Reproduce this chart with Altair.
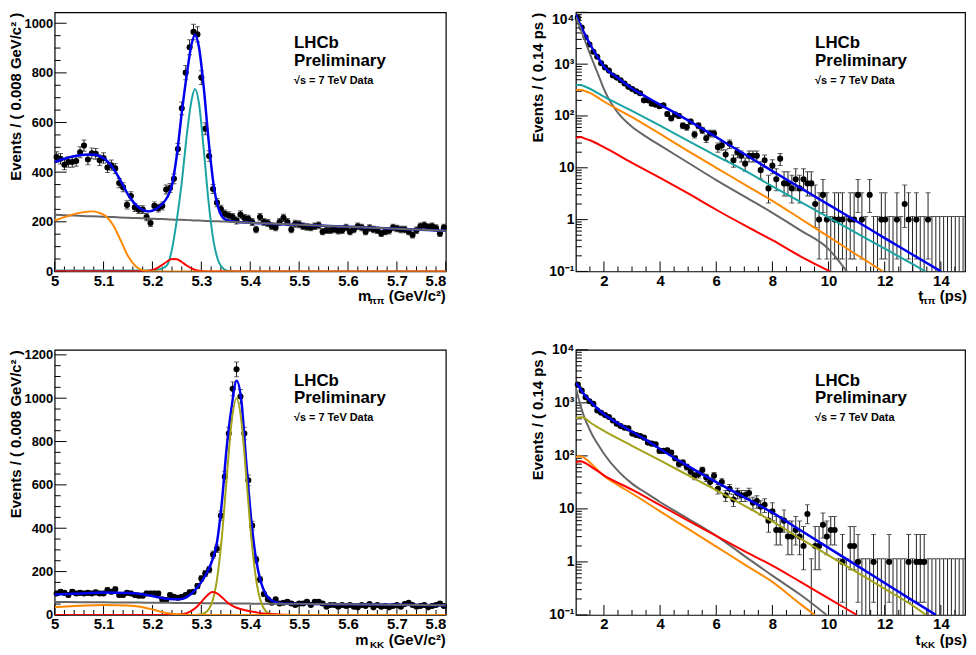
import math
import altair as alt
import pandas as pd

FONT = "Liberation Sans"

# colours
C_TOTAL = "#0000ee"
C_SIG_PP = "#1aa3a3"
C_SIG_KK = "#a3a31a"
C_PART = "#ff8800"
C_CROSS = "#ff0000"
C_COMB = "#666666"

# ---------------- binning ----------------
MASS_LO, MASS_BIN = 5.0, 0.008
TIME_LO, TIME_BIN = 1.0, 0.1386

# ---------------- data: m(pipi) ----------------
TL_COUNTS = [461, 454, 430, 441, 441, 445, 480, 507, 451, 476,
             474, 448, 457, 419, 428, 415, 356, 339, 268, 304,
             258, 249, 249, 219, 195, 264, 255, 264, 330, 336,
             373, 493, 657, 801, 903, 965, 955, 781, 575, 465,
             332, 277, 251, 232, 225, 219, 205, 229, 215, 212,
             199, 169, 219, 199, 195, 182, 177, 199, 216, 199,
             169, 192, 190, 182, 179, 177, 182, 186, 160, 166,
             166, 169, 164, 166, 177, 160, 169, 182, 177, 160,
             175, 169, 166, 153, 160, 164, 177, 173, 169, 169,
             160, 147, 166, 182, 186, 179, 182, 175, 153, 177]

TL_M = [5.000, 5.020, 5.040, 5.060, 5.075, 5.090, 5.105, 5.120, 5.135, 5.150,
        5.165, 5.180, 5.192, 5.205, 5.218, 5.230, 5.240, 5.250, 5.260, 5.270,
        5.280, 5.287, 5.295, 5.305, 5.315, 5.325, 5.335, 5.345, 5.355, 5.370,
        5.400, 5.500, 5.600, 5.700, 5.800]
TL_TOTAL = [441, 454, 464, 470, 471, 466, 449, 415, 365, 310,
            270, 248, 242, 249, 268, 298, 348, 470, 640, 790,
            915, 954, 905, 740, 525, 350, 255, 215, 205, 200,
            196, 188, 180, 172, 164]
TL_COMB = [228, 226, 225, 223, 222, 221, 220, 219, 217, 216,
           215, 214, 213, 212, 211, 210, 209, 208, 208, 207,
           206, 205, 205, 204, 203, 202, 202, 201, 200, 199,
           196, 188, 180, 172, 164]
TL_PART = [205, 219, 231, 239, 242, 237, 222, 185, 125, 62,
           22, 5, 1, 0, 0, 0, 0, 0, 0, 0,
           0, 0, 0, 0, 0, 0, 0, 0, 0, 0,
           0, 0, 0, 0, 0]
TL_CROSS = [1, 1, 1, 1, 1, 1, 1, 1, 1, 1,
            1, 1, 3, 9, 24, 40, 50, 49, 38, 24,
            12, 6, 3, 1, 0, 0, 0, 0, 0, 0,
            0, 0, 0, 0, 0]
TL_SIG = [4, 4, 4, 4, 4, 4, 4, 4, 4, 4,
          4, 4, 4, 5, 10, 25, 90, 210, 360, 545,
          690, 735, 679, 490, 276, 121, 41, 11, 2, 0,
          0, 0, 0, 0, 0]

# ---------------- data: t(pipi) ----------------
TR_COUNTS = [7800, 5080, 3300, 2400, 1730, 1390, 1040, 866, 750, 604,
             550, 490, 422, 365, 330, 299, 274, 200, 200, 173,
             165, 154, 161, 109, 90, 107, 100, 65, 61, 78,
             44, 65, 53, 37, 46, 46, 25, 27, 18, 29,
             14, 20, 17, 12, 17, 17, 17, 9, 14, 4,
             11, 6, 15, 5, 5, 4, 6, 4, 6, 5,
             5, 2, 1, 3, 1, 0, 1, 1, 1, 0,
             1, 1, 3, 1, 0, 3, 0, 0, 1, 1,
             0, 0, 1, 0, 2, 1, 0, 1, 0, 0,
             1, 0, 0, 0, 0, 0, 0, 0, 0, 0]

TR_TOTAL_T = [1.0, 1.1, 1.25, 1.4, 1.5, 1.75, 2.0, 2.5, 3.0, 3.5, 4.0, 4.5,
              5.0, 6.0, 7.0, 8.0, 9.0, 10.0, 11.0, 12.0, 13.0, 14.0]
TR_TOTAL_V = [9000, 6700, 4500, 3100, 2450, 1450, 900, 540, 340, 235, 165, 117,
              82, 39, 18.5, 8.6, 4.1, 1.95, 0.93, 0.44, 0.21, 0.1]
TR_COMB_T = [1.0, 1.2, 1.4, 1.6, 1.8, 2.0, 2.25, 2.5, 3.0, 3.5, 4.0, 5.0,
             6.0, 7.0, 8.0, 9.0, 10.0, 10.65]
TR_COMB_V = [8100, 4300, 2200, 1150, 620, 330, 180, 115, 62, 40, 27, 12.5,
             5.8, 2.8, 1.35, 0.62, 0.27, 0.1]
TR_SIG_T = [1.0, 1.1, 1.2, 1.3, 1.5, 2.0, 3.0, 4.0, 5.0, 6.0, 7.0, 8.0,
            9.0, 10.0, 11.0, 12.0, 13.0, 13.45]
TR_SIG_V = [390, 396, 392, 375, 335, 235, 125, 65, 33, 17, 8.9, 4.4,
            2.2, 1.1, 0.55, 0.275, 0.138, 0.1]
TR_PART_T = [1.0, 1.1, 1.2, 1.3, 1.5, 2.0, 3.0, 4.0, 5.0, 6.0, 7.0, 8.0,
             9.0, 10.0, 11.0, 11.94]
TR_PART_V = [315, 320, 318, 305, 280, 190, 95, 45, 21, 10, 4.8, 2.3,
             1.04, 0.47, 0.21, 0.1]
TR_CROSS_T = [1.0, 1.1, 1.2, 1.3, 1.5, 2.0, 3.0, 4.0, 5.0, 6.0, 7.0, 8.0,
              9.0, 10.05]
TR_CROSS_V = [38, 39, 39, 37, 34, 25, 12.5, 6.4, 3.2, 1.55, 0.78, 0.40,
              0.195, 0.1]

# ---------------- data: m(KK) ----------------
BL_COUNTS = [99, 107, 102, 92, 107, 99, 102, 99, 102, 99,
             104, 99, 99, 115, 107, 118, 92, 92, 102, 99,
             92, 89, 89, 99, 99, 99, 99, 72, 69, 92,
             84, 79, 84, 92, 104, 107, 133, 168, 191, 209,
             278, 305, 458, 638, 837, 1043, 1133, 1008, 837, 621,
             412, 255, 163, 96, 72, 56, 72, 53, 56, 61,
             53, 46, 53, 53, 61, 46, 61, 61, 53, 38,
             46, 46, 38, 46, 41, 46, 38, 35, 46, 41,
             50, 35, 46, 38, 41, 35, 41, 46, 38, 50,
             56, 46, 38, 41, 46, 35, 41, 46, 53, 41]

BL_M = [5.000, 5.050, 5.100, 5.150, 5.175, 5.195, 5.215, 5.235, 5.255, 5.270,
        5.282, 5.292, 5.302, 5.312, 5.322, 5.332, 5.342, 5.352, 5.362, 5.372,
        5.382, 5.392, 5.402, 5.412, 5.422, 5.432, 5.442, 5.452, 5.470, 5.500,
        5.600, 5.700, 5.800]
BL_TOTAL = [94, 99, 103, 101, 97, 90, 80, 73, 72, 82,
            103, 128, 158, 198, 250, 335, 520, 775, 960, 1080,
            985, 700, 440, 255, 150, 95, 70, 58, 52, 51,
            49, 47, 45]
BL_COMB = [60, 59, 58, 57, 57, 56, 56, 56, 55, 55,
           55, 55, 54, 54, 54, 54, 54, 53, 53, 53,
           53, 53, 52, 52, 52, 52, 52, 52, 51, 51,
           49, 47, 45]
BL_PART = [36, 42, 46, 44, 38, 28, 16, 7, 2, 0,
           0, 0, 0, 0, 0, 0, 0, 0, 0, 0,
           0, 0, 0, 0, 0, 0, 0, 0, 0, 0,
           0, 0, 0]
BL_CROSS = [0, 0, 0, 0, 0, 0, 0, 0, 2, 8,
            22, 40, 65, 90, 106, 100, 82, 60, 44, 33,
            26, 20, 16, 12, 8, 6, 4, 3, 1, 0,
            0, 0, 0]
BL_SIG = [0, 0, 0, 0, 0, 0, 0, 0, 0, 0,
          0, 1, 4, 17, 59, 163, 360, 635, 893, 1000,
          893, 635, 360, 163, 59, 17, 4, 1, 0, 0,
          0, 0, 0]

# ---------------- data: t(KK) ----------------
BR_COUNTS = [2210, 1700, 1280, 1075, 955, 718, 650, 588, 540, 466,
             404, 365, 340, 330, 263, 248, 237, 221, 178, 170,
             165, 124, 124, 128, 115, 90, 70, 75, 62, 51,
             42, 45, 54, 39, 32, 42, 24, 32, 18, 24,
             15, 20, 18, 18, 20, 13, 14, 11, 12, 6,
             9, 4, 4, 6, 3, 3, 4, 3, 2, 8,
             0, 2, 2, 5, 3, 4, 4, 0, 1, 0,
             2, 2, 1, 0, 0, 0, 1, 0, 0, 0,
             1, 0, 0, 0, 0, 1, 0, 1, 1, 1,
             0, 0, 0, 0, 0, 0, 0, 0, 0, 0]

BR_TOTAL_T = [1.0, 1.1, 1.25, 1.4, 1.5, 1.75, 2.0, 2.5, 3.0, 3.5, 4.0, 5.0,
              6.0, 7.0, 8.0, 9.0, 10.0, 11.0, 12.0, 13.0, 13.82]
BR_TOTAL_V = [2350, 2050, 1550, 1250, 1100, 800, 610, 410, 285, 200, 135, 64,
              32, 16.5, 8.5, 3.95, 1.84, 0.86, 0.40, 0.186, 0.1]
BR_COMB_T = [1.0, 1.1, 1.2, 1.3, 1.4, 1.6, 1.8, 2.0, 2.5, 3.0, 3.5, 4.0,
             5.0, 6.0, 7.0, 8.0, 9.0, 9.93]
BR_COMB_V = [1900, 1200, 780, 540, 400, 240, 160, 110, 52, 30, 20, 13.5,
             6.5, 3.1, 1.3, 0.55, 0.24, 0.1]
BR_SIG_T = [1.0, 1.1, 1.2, 1.3, 1.5, 2.0, 3.0, 4.0, 5.0, 6.0, 7.0, 8.0,
            9.0, 10.0, 11.0, 12.0, 13.0, 13.47]
BR_SIG_V = [510, 530, 535, 520, 430, 295, 155, 82, 43, 22.5, 11.5, 5.8,
            2.75, 1.33, 0.64, 0.31, 0.15, 0.1]
BR_PART_T = [1.0, 1.1, 1.2, 1.3, 1.5, 2.0, 2.5, 3.0, 4.0, 5.0, 6.0, 7.0,
             8.0, 9.0, 9.51]
BR_PART_V = [95, 98, 97, 92, 75, 42, 28, 19.5, 9.0, 4.2, 1.95, 0.90,
             0.42, 0.16, 0.1]
BR_CROSS_T = [1.0, 1.1, 1.2, 1.3, 1.5, 2.0, 3.0, 4.0, 5.0, 6.0, 7.0, 8.0,
              9.0, 10.0, 11.0]
BR_CROSS_V = [75, 78, 78, 75, 65, 43, 23, 11.8, 6.0, 3.1, 1.6, 0.85,
              0.42, 0.205, 0.1]

# ---------------- axis ticks / labels ----------------
MASS_MAJOR = [5.0, 5.1, 5.2, 5.3, 5.4, 5.5, 5.6, 5.7, 5.8]
MASS_MINOR = [round(5.0 + 0.02 * k, 2) for k in range(41) if k % 5 != 0]
TIME_MAJOR = [2, 4, 6, 8, 10, 12, 14]
TIME_MINOR = [1.5 + 0.5 * k for k in range(27) if (1.5 + 0.5 * k) % 2 != 0]
TL_YMAJOR = [0, 200, 400, 600, 800, 1000]
TL_YMINOR = [50 * k for k in range(21) if k % 4 != 0]
BL_YMAJOR = [0, 200, 400, 600, 800, 1000, 1200]
BL_YMINOR = [50 * k for k in range(25) if k % 4 != 0]
LOG_MAJOR = [0.1, 1, 10, 100, 1000, 10000]
LOG_MINOR = [m * 10 ** e for e in range(-1, 4) for m in range(2, 10)]
LOG_LABELS = ("datum.value > 5000 ? '10⁴' : datum.value > 500 ? '10³' : "
              "datum.value > 50 ? '10²' : datum.value > 5 ? '10' : "
              "datum.value > 0.5 ? '1' : '10⁻¹'")
MASS_LABELS = "datum.value < 5.05 ? '5' : format(datum.value, '.1f')"
LIN_LABELS = "format(datum.value, 'd')"

# 68.3% Poisson intervals for small counts (as drawn by RooFit)
POISSON_68 = {0: (0.0, 1.148), 1: (0.173, 3.300), 2: (0.708, 4.638), 3: (1.367, 5.918),
              4: (2.086, 7.163), 5: (2.840, 8.382), 6: (3.620, 9.584), 7: (4.419, 10.77),
              8: (5.232, 11.95), 9: (6.057, 13.11), 10: (6.891, 14.27)}


def interval(n):
    if n in POISSON_68:
        return POISSON_68[n]
    s = math.sqrt(n)
    return n - s, n + s


DUMMY = pd.DataFrame({"d": [0]})


def text_layer(txt, px, py, size, align="left"):
    return alt.Chart(DUMMY).mark_text(
        text=txt, align=align, baseline="alphabetic", font=FONT,
        fontWeight="bold", fontSize=size, color="black"
    ).encode(x=alt.value(px), y=alt.value(py))


def panel(counts, x0, bw, curves, xdom, ydom, log, xmaj, xmin, ymaj, ymin,
          ytitle, xsym, xsub, xunit, W, H, xlabel_expr=None, ylabel_expr=None,
          x_last_right=False, y_top_down=False, unit_dx=0, sub_dx=62, sym_dx=75,
          ylabel_size=13):
    rows = []
    for i, n in enumerate(counts):
        lo, hi = interval(n)
        if log and lo <= 0:
            lo = ydom[0] / 10.0
        rows.append({"x": x0 + bw * (i + 0.5), "y": n, "lo": lo, "hi": hi})
    pts = pd.DataFrame(rows)

    xscale = alt.Scale(domain=list(xdom), nice=False, zero=False)
    if log:
        yscale = alt.Scale(type="log", domain=list(ydom), nice=False)
    else:
        yscale = alt.Scale(type="linear", domain=list(ydom), nice=False, zero=False)

    xaxis_kw = dict(values=xmaj, ticks=False, domain=False, grid=False, title=None,
                    labelFont=FONT, labelFontSize=15, labelFontWeight="bold",
                    labelColor="black", labelPadding=2, labelFlush=False,
                    labelOverlap=False)
    if xlabel_expr:
        xaxis_kw["labelExpr"] = xlabel_expr
    if x_last_right:
        xaxis_kw["labelAlign"] = {"condition": {"test": "datum.value > %f" % (xdom[1] - 0.01),
                                                "value": "right"}, "value": "center"}
    yaxis_kw = dict(values=ymaj, ticks=False, domain=False, grid=False, title=ytitle,
                    titleX=-34, titleY=0, titleAngle=270, titleAlign="right",
                    titleBaseline="alphabetic", titleFont=FONT, titleFontSize=15,
                    titleFontWeight="bold", titleColor="black",
                    labelFont=FONT, labelFontSize=ylabel_size, labelFontWeight="bold",
                    labelColor="black", labelPadding=2, labelOverlap=False,
                    labelFlush=False, labelExpr=ylabel_expr or LIN_LABELS)
    if y_top_down:
        yaxis_kw["labelBaseline"] = {"condition": {"test": "datum.value > %f" % (ydom[1] * 0.9),
                                                   "value": "top"}, "value": "middle"}

    def X(f="x"):
        return alt.X(f"{f}:Q", scale=xscale, axis=alt.Axis(**xaxis_kw))

    def Y(f="y"):
        return alt.Y(f"{f}:Q", scale=yscale, axis=alt.Axis(**yaxis_kw))

    layers = []
    # inward ticks
    layers.append(alt.Chart(pd.DataFrame({"y": ymaj})).mark_rule(color="black", strokeWidth=1)
                  .encode(y=Y(), x=alt.value(0), x2=alt.value(12)))
    layers.append(alt.Chart(pd.DataFrame({"y": ymin})).mark_rule(color="black", strokeWidth=1)
                  .encode(y=Y(), x=alt.value(0), x2=alt.value(6)))
    layers.append(alt.Chart(pd.DataFrame({"x": xmaj})).mark_rule(color="black", strokeWidth=1)
                  .encode(x=X(), y=alt.value(H), y2=alt.value(H - 10)))
    layers.append(alt.Chart(pd.DataFrame({"x": xmin})).mark_rule(color="black", strokeWidth=1)
                  .encode(x=X(), y=alt.value(H), y2=alt.value(H - 5)))
    # data with error bars
    layers.append(alt.Chart(pts).mark_rule(color="#222222", strokeWidth=1, clip=True)
                  .encode(x=X(), y=Y("lo"), y2=alt.Y2("hi:Q")))
    layers.append(alt.Chart(pts).mark_tick(orient="horizontal", size=5, thickness=1,
                                           color="#222222", clip=True)
                  .encode(x=X(), y=Y("hi")))
    layers.append(alt.Chart(pts).mark_tick(orient="horizontal", size=5, thickness=1,
                                           color="#222222", clip=True)
                  .encode(x=X(), y=Y("lo")))
    layers.append(alt.Chart(pts).transform_filter("datum.y > 0")
                  .mark_circle(size=38, color="black", opacity=1)
                  .encode(x=X(), y=Y("y")))
    # fit curves
    for xs, ys, color, sw in curves:
        layers.append(alt.Chart(pd.DataFrame({"x": xs, "y": ys}))
                      .mark_line(color=color, strokeWidth=sw, interpolate="monotone", clip=True)
                      .encode(x=X(), y=Y()))
    # labels
    layers.append(text_layer("LHCb", 241, 36, 17))
    layers.append(text_layer("Preliminary", 241, 54, 17))
    layers.append(text_layer("√s = 7 TeV Data", 241, 72, 11))
    layers.append(text_layer(xunit, W + unit_dx, H + 30, 15, align="right"))
    layers.append(text_layer(xsub, W - sub_dx, H + 33, 10, align="right"))
    layers.append(text_layer(xsym, W - sym_dx, H + 30, 15, align="right"))
    return alt.layer(*layers).properties(width=W, height=H)


tl = panel(TL_COUNTS, MASS_LO, MASS_BIN,
           [(TL_M, TL_TOTAL, C_TOTAL, 2.5), (TL_M, TL_COMB, C_COMB, 2),
            (TL_M, TL_SIG, C_SIG_PP, 2), (TL_M, TL_CROSS, C_CROSS, 2),
            (TL_M, TL_PART, C_PART, 2)],
           (5.0, 5.8), (0, 1044), False, MASS_MAJOR, MASS_MINOR, TL_YMAJOR, TL_YMINOR,
           "Events / ( 0.008 GeV/c² )", "m", "ππ", "(GeV/c²)", 394, 261,
           xlabel_expr=MASS_LABELS, x_last_right=True)

tr = panel(TR_COUNTS, TIME_LO, TIME_BIN,
           [(TR_TOTAL_T, TR_TOTAL_V, C_TOTAL, 2.5), (TR_COMB_T, TR_COMB_V, C_COMB, 2),
            (TR_SIG_T, TR_SIG_V, C_SIG_PP, 2), (TR_PART_T, TR_PART_V, C_PART, 2),
            (TR_CROSS_T, TR_CROSS_V, C_CROSS, 2)],
           (1.0, 14.86), (0.1, 10000), True, TIME_MAJOR, TIME_MINOR, LOG_MAJOR, LOG_MINOR,
           "Events / ( 0.14 ps )", "t", "ππ", "(ps)", 392, 261,
           ylabel_expr=LOG_LABELS, y_top_down=True, unit_dx=2, sub_dx=30, sym_dx=42,
           ylabel_size=14)

bl = panel(BL_COUNTS, MASS_LO, MASS_BIN,
           [(BL_M, BL_TOTAL, C_TOTAL, 2.5), (BL_M, BL_COMB, C_COMB, 2),
            (BL_M, BL_SIG, C_SIG_KK, 2), (BL_M, BL_CROSS, C_CROSS, 2),
            (BL_M, BL_PART, C_PART, 2)],
           (5.0, 5.8), (0, 1223), False, MASS_MAJOR, MASS_MINOR, BL_YMAJOR, BL_YMINOR,
           "Events / ( 0.008 GeV/c² )", "m", "KK", "(GeV/c²)", 394, 267,
           xlabel_expr=MASS_LABELS, x_last_right=True, sub_dx=62, sym_dx=78)

br = panel(BR_COUNTS, TIME_LO, TIME_BIN,
           [(BR_TOTAL_T, BR_TOTAL_V, C_TOTAL, 2.5), (BR_COMB_T, BR_COMB_V, C_COMB, 2),
            (BR_SIG_T, BR_SIG_V, C_SIG_KK, 2), (BR_PART_T, BR_PART_V, C_PART, 2),
            (BR_CROSS_T, BR_CROSS_V, C_CROSS, 2)],
           (1.0, 14.86), (0.1, 10000), True, TIME_MAJOR, TIME_MINOR, LOG_MAJOR, LOG_MINOR,
           "Events / ( 0.14 ps )", "t", "KK", "(ps)", 392, 267,
           ylabel_expr=LOG_LABELS, unit_dx=2, sub_dx=30, sym_dx=45, ylabel_size=14)

chart = alt.concat(
    tl, tr, bl, br, columns=2,
    spacing={"row": 79, "column": 131}, bounds="flush",
).properties(padding=0).configure_view(stroke="black", strokeWidth=1.2)

chart.save("out.html", embed_options={"renderer": "svg", "actions": False})
